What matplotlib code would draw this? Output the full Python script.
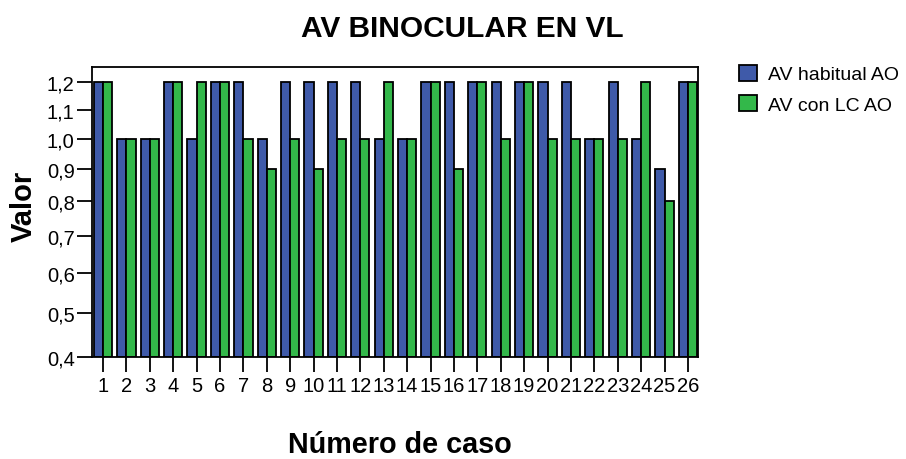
import numpy as np
import matplotlib.pyplot as plt
from matplotlib.ticker import FuncFormatter

plt.rcParams['font.family'] = ['Liberation Sans', 'DejaVu Sans']

casos = list(range(1, 27))
av_habitual = [1.2, 1.0, 1.0, 1.2, 1.0, 1.2, 1.2, 1.0, 1.2, 1.2, 1.2, 1.2, 1.0,
               1.0, 1.2, 1.2, 1.2, 1.2, 1.2, 1.2, 1.2, 1.0, 1.2, 1.0, 0.9, 1.2]
av_lc = [1.2, 1.0, 1.0, 1.2, 1.2, 1.2, 1.0, 0.9, 1.0, 0.9, 1.0, 1.0, 1.2,
         1.0, 1.2, 0.9, 1.2, 1.0, 1.2, 1.0, 1.0, 1.0, 1.0, 1.2, 0.8, 1.2]
yticks = [0.4, 0.5, 0.6, 0.7, 0.8, 0.9, 1.0, 1.1, 1.2]

azul = '#3f5aa9'
verde = '#33b84a'

fig = plt.figure(figsize=(9.06, 4.6), dpi=100)
ax = fig.add_axes([92/906, 1-358/460, 606/906, 290/460])

x = np.array(casos)
w = 0.39
base = 0.4
b1 = ax.bar(x - w/2, np.array(av_habitual) - base, w, bottom=base, color=azul,
            edgecolor='black', linewidth=1.3, label='AV habitual AO')
b2 = ax.bar(x + w/2, np.array(av_lc) - base, w, bottom=base, color=verde,
            edgecolor='black', linewidth=1.3, label='AV con LC AO')

# escala raiz cuadrada, como en el grafico original
ax.set_yscale('function', functions=(np.sqrt, np.square))
ax.set_ylim(0.4, 1.256)
ax.set_xlim(0.53, 26.43)
ax.set_yticks(yticks)
ax.yaxis.set_major_formatter(FuncFormatter(lambda v, p: ('%.1f' % v).replace('.', ',')))
ax.yaxis.set_minor_locator(plt.NullLocator())
ax.set_xticks(casos)
ax.set_xticklabels([str(c) for c in casos])
ax.tick_params(axis='both', direction='out', length=11, width=1.3, labelsize=14.5, color='black')
ax.tick_params(axis='y', pad=1.5)
ax.tick_params(axis='x', pad=3)
for s in ax.spines.values():
    s.set_linewidth(1.3)

fig.text(462/906, 1-37/460, 'AV BINOCULAR EN VL', ha='center', va='baseline',
         fontsize=21.5, fontweight='bold')
fig.text(24/906, 1-206/460, 'Valor', ha='center', va='center', rotation=90,
         fontsize=21, fontweight='bold')
fig.text(400/906, 1-453/460, 'Número de caso', ha='center', va='baseline',
         fontsize=20.7, fontweight='bold')

fig.legend(handles=[b1, b2], loc='upper left', bbox_to_anchor=(739/906, 1-66/460),
           frameon=False, fontsize=14, handlelength=0.9, handleheight=0.85,
           handletextpad=0.6, labelspacing=0.6, borderaxespad=0, borderpad=0)

fig.savefig('out.png', dpi=100)
